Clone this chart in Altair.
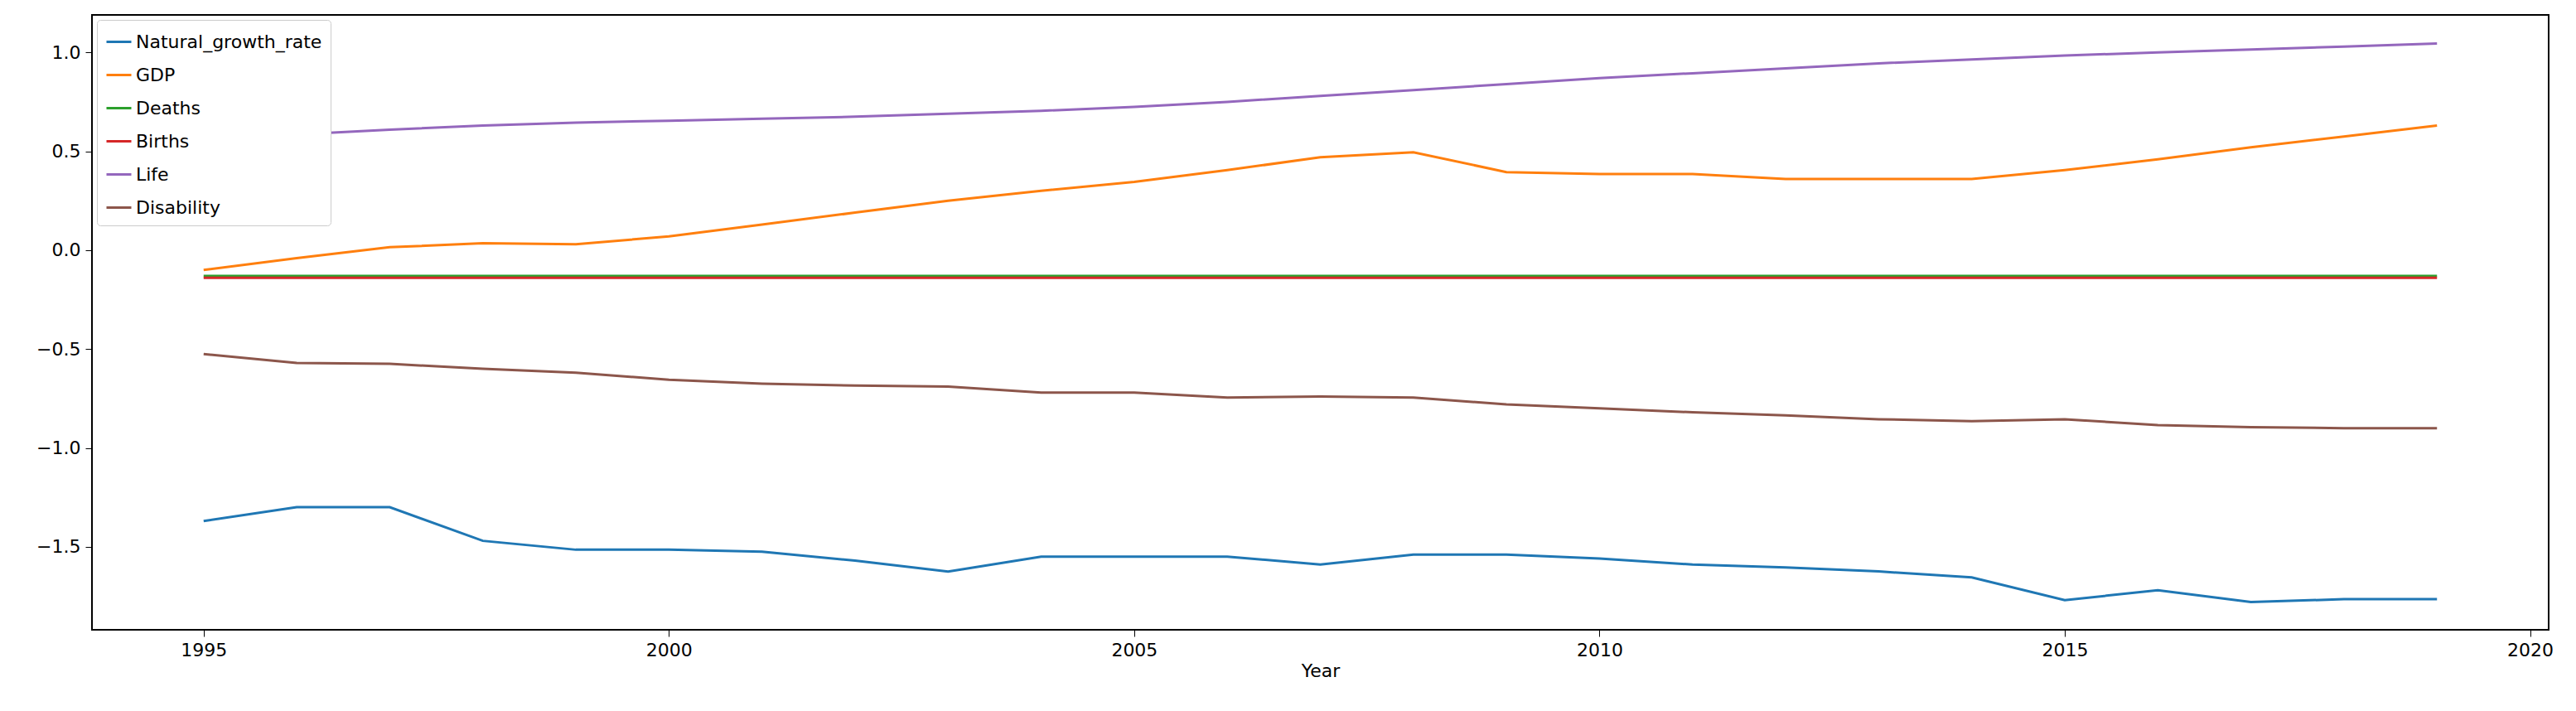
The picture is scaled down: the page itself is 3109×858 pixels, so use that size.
import pandas as pd
import altair as alt

years = list(range(1995, 2020))
natural = [-1.37, -1.30, -1.30, -1.47, -1.515, -1.515, -1.525, -1.57, -1.625, -1.55, -1.55, -1.55, -1.59,
           -1.54, -1.54, -1.56, -1.59, -1.605, -1.625, -1.655, -1.77, -1.72, -1.78, -1.765, -1.765]
gdp = [-0.10, -0.04, 0.015, 0.035, 0.03, 0.07, 0.13, 0.19, 0.25, 0.30, 0.345, 0.405, 0.47,
       0.495, 0.395, 0.385, 0.385, 0.36, 0.36, 0.36, 0.405, 0.46, 0.52, 0.575, 0.63]
deaths = [-0.13] * 25
births = [-0.14] * 25
life = [0.55, 0.585, 0.61, 0.63, 0.645, 0.655, 0.665, 0.675, 0.69, 0.705, 0.725, 0.75, 0.78,
        0.81, 0.84, 0.87, 0.895, 0.92, 0.945, 0.965, 0.985, 1.0, 1.015, 1.03, 1.045]
disability = [-0.525, -0.57, -0.575, -0.6, -0.62, -0.655, -0.675, -0.685, -0.69, -0.72, -0.72, -0.745, -0.74,
              -0.745, -0.78, -0.8, -0.82, -0.835, -0.855, -0.865, -0.855, -0.885, -0.895, -0.9, -0.9]

series = {"Natural_growth_rate": natural, "GDP": gdp, "Deaths": deaths,
          "Births": births, "Life": life, "Disability": disability}
names = list(series)
colors = ["#1f77b4", "#ff7f0e", "#2ca02c", "#d62728", "#9467bd", "#8c564b"]

rows = []
for name, vals in series.items():
    for y, v in zip(years, vals):
        rows.append({"Year": y, "series": name, "value": v})
df = pd.DataFrame(rows)

chart = alt.Chart(df).mark_line(strokeWidth=3).encode(
    x=alt.X("Year:Q", scale=alt.Scale(domain=[1993.8, 2020.2], nice=False, zero=False),
            axis=alt.Axis(values=[1995, 2000, 2005, 2010, 2015, 2020], format="d", grid=False,
                          labelFontSize=22, titleFontSize=22, titleFontWeight="normal",
                          tickSize=8, labelPadding=6)),
    y=alt.Y("value:Q", title=None, scale=alt.Scale(domain=[-1.92, 1.19], nice=False),
            axis=alt.Axis(values=[-1.5, -1.0, -0.5, 0.0, 0.5, 1.0], format=".1f", grid=False,
                          labelFontSize=22, tickSize=8, labelPadding=6)),
    color=alt.Color("series:N", scale=alt.Scale(domain=names, range=colors), sort=names,
                    legend=alt.Legend(title=None, orient="top-left", labelFontSize=22, labelLimit=0,
                                      symbolType="stroke", symbolStrokeWidth=3, symbolSize=900,
                                      strokeColor="#cccccc", fillColor="white", padding=10,
                                      cornerRadius=4, offset=6, rowPadding=12)),
    order="Year:Q",
).properties(
    width=2965, height=742, padding={"left": 35, "top": 10, "right": 5, "bottom": 5},
).configure_view(stroke="black", strokeWidth=2).configure_axis(
    domainColor="black", tickColor="black", labelColor="black", titleColor="black",
    labelFont="DejaVu Sans", titleFont="DejaVu Sans"
).configure_legend(labelFont="DejaVu Sans")

chart.save("out.html", embed_options={"renderer": "svg", "actions": False})
